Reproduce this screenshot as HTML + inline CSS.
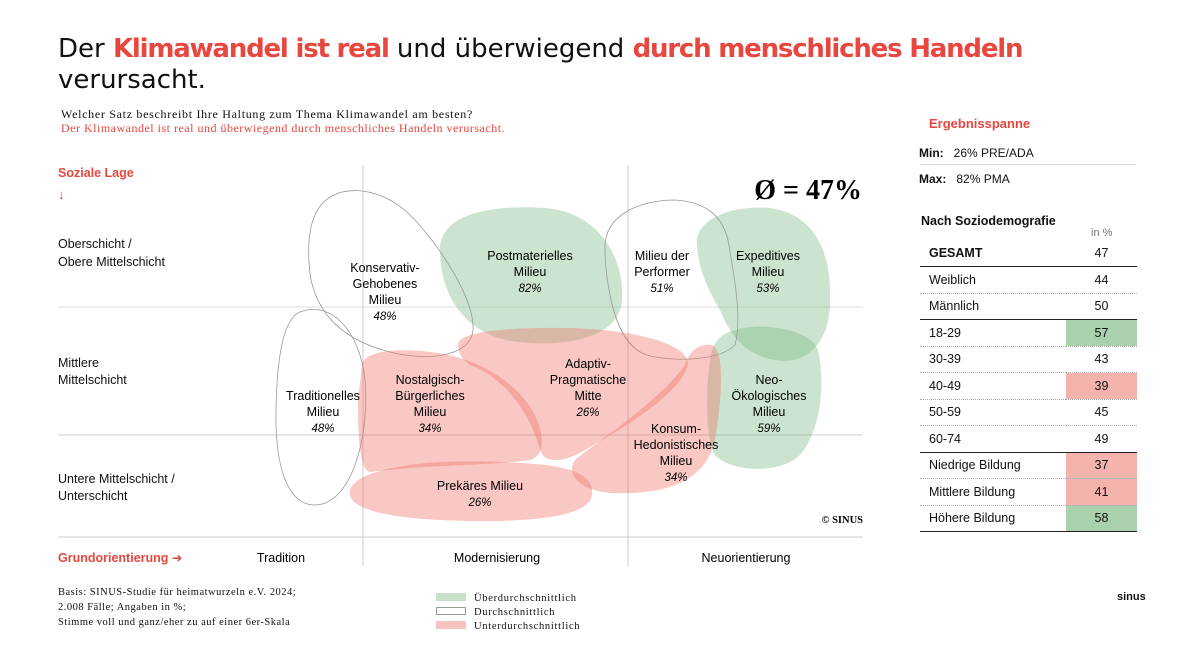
<!DOCTYPE html>
<html><head><meta charset="utf-8">
<style>
body{margin:0;width:1192px;height:656px;background:#fff;overflow:hidden;font-family:"Liberation Sans","DejaVu Sans",sans-serif;color:#111;position:relative}
.a{position:absolute;white-space:nowrap}
.red{color:#e8473f}
b.red{letter-spacing:-1.2px}
.serif{font-family:"Liberation Serif",serif}
table{border-collapse:collapse}
</style></head><body>
<div class="a" style="left:58px;top:34px;font-size:26px;line-height:31px;font-family:'DejaVu Sans',sans-serif;letter-spacing:0px">Der <b class="red">Klimawandel ist real</b> und überwiegend <b class="red">durch menschliches Handeln</b><br>verursacht.</div>
<div class="a serif" style="left:61px;top:107px;font-size:12px;letter-spacing:0.7px">Welcher Satz beschreibt Ihre Haltung zum Thema Klimawandel am besten?</div>
<div class="a serif red" style="left:61px;top:121px;font-size:12px;letter-spacing:0.5px">Der Klimawandel ist real und überwiegend durch menschliches Handeln verursacht.</div>

<svg class="a" style="left:0;top:0" width="900" height="656" id="chart">
<text x="58" y="177" font-size="12.5" font-weight="bold" fill="#e8473f">Soziale Lage</text>
<text x="58" y="199" font-size="13" font-weight="bold" fill="#e8473f">↓</text>
<line x1="58" y1="307" x2="863" y2="307" stroke="#ddd"/>
<line x1="58" y1="435" x2="863" y2="435" stroke="#ccc"/>
<line x1="363" y1="165" x2="363" y2="566" stroke="#ccc"/>
<line x1="628" y1="165" x2="628" y2="566" stroke="#ccc"/>
<line x1="58" y1="537" x2="863" y2="537" stroke="#ccc"/>
<g font-size="12.5" fill="#111">
<text x="58" y="248">Oberschicht /</text><text x="58" y="266">Obere Mittelschicht</text>
<text x="58" y="367">Mittlere</text><text x="58" y="384">Mittelschicht</text>
<text x="58" y="483">Untere Mittelschicht /</text><text x="58" y="500">Unterschicht</text>
</g>
<text x="58" y="562" font-size="12.5" font-weight="bold" fill="#e8473f">Grundorientierung  ➜</text>
<g font-size="12.5" text-anchor="middle">
<text x="281" y="562">Tradition</text><text x="497" y="562">Modernisierung</text><text x="746" y="562">Neuorientierung</text>
</g>
<text x="862" y="199" font-size="28" font-weight="bold" text-anchor="end" font-family="Liberation Serif">Ø = 47%</text>
<text x="863" y="523" font-size="10.5" font-weight="bold" text-anchor="end" font-family="Liberation Serif">© SINUS</text>
<g id="blobs"></g><g id="labels"></g>
</svg>

<div class="a serif" style="left:58px;top:585px;font-size:10.5px;line-height:15px;letter-spacing:0.5px">Basis: SINUS-Studie für heimatwurzeln e.V. 2024;<br>2.008 Fälle; Angaben in %;<br>Stimme voll und ganz/eher zu auf einer 6er-Skala</div>
<div class="a serif" style="left:436px;top:592px;font-size:10.5px;line-height:14px;letter-spacing:0.7px">
<div><span style="display:inline-block;width:30px;height:8px;background:#c9e2cc;margin-right:8px"></span>Überdurchschnittlich</div>
<div><span style="display:inline-block;width:28px;height:6px;border:1px solid #999;margin-right:8px"></span>Durchschnittlich</div>
<div><span style="display:inline-block;width:30px;height:8px;background:#f6c4c0;margin-right:8px"></span>Unterdurchschnittlich</div>
</div>
<div class="a" style="left:1117px;top:591px;font-size:11px;font-weight:bold">sinus</div>

<div class="a red" style="left:929px;top:116px;font-size:13px;font-weight:bold">Ergebnisspanne</div>
<div class="a" style="left:919px;top:146px;font-size:12px"><b>Min:</b>&nbsp;&nbsp; 26% PRE/ADA</div>
<div style="position:absolute;left:920px;top:164px;width:216px;height:1px;background:#ddd"></div>
<div class="a" style="left:919px;top:172px;font-size:12px"><b>Max:</b>&nbsp;&nbsp; 82% PMA</div>
<div class="a" style="left:921px;top:214px;font-size:12.5px;font-weight:bold">Nach Soziodemografie</div>
<div class="a" style="left:1091px;top:227px;font-size:11px;color:#777">in %</div>
<table class="a" id="tbl" style="left:920px;top:240px;width:217px;font-size:12.5px"></table>

<script>
const milieuNames=[["Postmaterielles","Milieu"],["Expeditives","Milieu"],["Neo-","Ökologisches","Milieu"],["Milieu der","Performer"],["Konservativ-","Gehobenes","Milieu"],["Traditionelles","Milieu"],["Nostalgisch-","Bürgerliches","Milieu"],["Adaptiv-","Pragmatische","Mitte"],["Konsum-","Hedonistisches","Milieu"],["Prekäres Milieu"]];
const milieuValues=[82,53,59,51,48,48,34,26,34,26];
const average=47;
const shapes=[
"M440,250 C440,210 500,205 545,208 C600,212 625,260 622,300 C620,340 560,347 520,342 C470,338 440,300 440,250Z",
"M697,245 C695,215 740,205 770,208 C820,215 832,260 830,305 C828,350 800,365 775,360 C745,355 730,335 720,310 C705,285 698,265 697,245Z",
"M735,330 C760,322 810,328 818,350 C825,380 822,430 800,455 C780,475 730,472 715,455 C705,440 705,380 712,350 C718,335 728,332 735,330Z",
"M605,250 C603,215 640,200 675,200 C705,202 722,215 728,240 C735,280 742,320 735,345 C720,360 680,362 650,356 C625,350 615,320 610,295 C606,275 605,262 605,250Z",
"M315,215 C330,180 380,185 410,215 C440,245 475,300 473,330 C470,360 420,360 390,352 C350,342 320,320 311,280 C307,255 308,230 315,215Z",
"M300,312 C330,300 360,330 365,380 C370,440 350,505 315,505 C285,505 275,460 276,410 C277,350 285,318 300,312Z",
"M362,365 C365,350 400,348 430,352 C470,356 505,375 525,400 C545,425 548,455 530,460 C500,465 420,465 370,472 C360,470 358,440 358,400Z",
"M458,345 C456,330 520,327 570,328 C640,330 690,345 688,365 C680,395 620,430 585,450 C565,462 545,465 540,450 C530,410 500,375 470,365 C462,360 458,352 458,345Z",
"M575,460 C600,440 660,400 685,365 C690,350 700,343 712,345 C725,350 722,400 715,440 C705,485 660,495 610,493 C580,490 565,475 575,460Z",
"M350,490 C355,470 420,458 500,462 C560,464 595,470 592,495 C590,515 540,522 470,521 C400,520 345,512 350,490Z"];
const labelPos=[[530,260],[768,260],[769,384],[662,260],[385,272],[323,400],[430,384],[588,368],[676,433],[480,490]];
const ns="http://www.w3.org/2000/svg";
const bg=document.getElementById('blobs'),lg=document.getElementById('labels');
milieuValues.forEach((v,i)=>{
  const p=document.createElementNS(ns,'path');
  
  
  p.setAttribute('d',shapes[i]);
  const d=v-average;
  if(d>=5){p.setAttribute('fill','rgba(120,185,130,0.38)');}
  else if(d<=-5){p.setAttribute('fill','rgba(238,110,100,0.38)');}
  else{p.setAttribute('fill','none');p.setAttribute('stroke','#999');p.setAttribute('stroke-width','0.8');}
  bg.appendChild(p);
  const t=document.createElementNS(ns,'text');
  
  
  t.setAttribute('text-anchor','middle');t.setAttribute('font-size','12.5');
  const [x,y]=labelPos[i];
  const lines=milieuNames[i].concat([v+'%']);
  lines.forEach((s,j)=>{const ts=document.createElementNS(ns,'tspan');ts.setAttribute('x',x);ts.setAttribute('y',y+j*16);ts.textContent=s;if(j===lines.length-1){ts.setAttribute('font-style','italic');ts.setAttribute('font-size','11.5');}t.appendChild(ts);});
  lg.appendChild(t);
});
const rowLabels=["GESAMT","Weiblich","Männlich","18-29","30-39","40-49","50-59","60-74","Niedrige Bildung","Mittlere Bildung","Höhere Bildung"];
const rowValues=[47,44,50,57,43,39,45,49,37,41,58];
const rowFlags=["","","","up","","down","","","down","down","up"];
const tb=document.getElementById('tbl');
rowLabels.forEach((l,i)=>{
  const tr=document.createElement('tr');
  
  
  const thick=(i===0||i===2||i===7||i===10);
  tr.style.borderBottom=thick?'1.5px solid #222':'1px dotted #aaa';
  tr.style.height='26.5px';
  const a=document.createElement('td');a.textContent=l;a.style.paddingLeft='9px';if(i===0)a.style.fontWeight='bold';
  const b=document.createElement('td');b.textContent=rowValues[i];b.style.width='69px';b.style.textAlign='center';
  if(rowFlags[i]==='up')b.style.background='#a9d1ad';
  if(rowFlags[i]==='down')b.style.background='#f4b3ac';
  tr.appendChild(a);tr.appendChild(b);tb.appendChild(tr);
});
</script>
</body></html>
